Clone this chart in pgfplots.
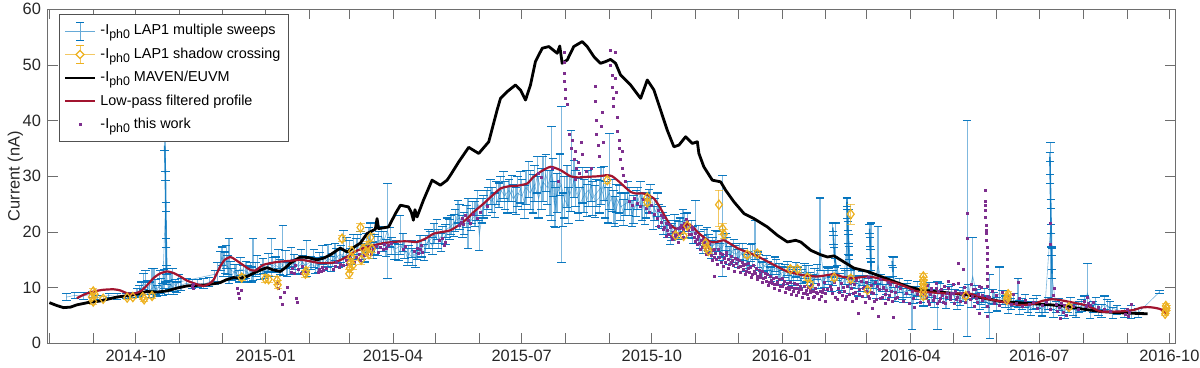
\documentclass[border=0pt]{standalone}
\usepackage{fontspec}
\setmainfont{Liberation Sans}
\usepackage{pgfplots}
\usepackage{pgfplotstable}
\pgfplotsset{compat=1.18}
\usetikzlibrary{calc}

\definecolor{lapblue}{RGB}{0,114,189}
\definecolor{shadoworange}{RGB}{237,177,32}
\definecolor{workpurple}{RGB}{126,47,142}
\definecolor{lowpassred}{RGB}{162,20,47}
\definecolor{axisgray}{RGB}{110,110,110}
\definecolor{labelgray}{RGB}{38,38,38}

\newcommand{\ph}{\raisebox{-0.55ex}{\fontsize{6.2}{6}\selectfont ph0}}

% x = days since 2014-08-01
% LAP1 multiple sweeps: day, value, error plus, error minus
\pgfplotstableread{
d v ep em
12 8.3 0.6 0.6
18 8.6 0.5 0.5
24 8.5 0.6 0.6
30 8.8 0.5 0.5
34 8.2 0.4 0.4
42 8.6 0.4 0.4
48 8.4 0.5 0.5
54 8.5 0.5 0.5
58 8.7 0.4 0.4
62 9.0 0.8 0.8
65 9.8 1.2 1.0
68 10.5 2.5 1.2
71 9.5 1.5 1.2
74 10.2 3.3 1.5
76 9.3 1.0 0.8
78 10.8 2.2 1.6
80 9.6 1.2 1.0
82 24.0 13.0 13.0
83 12.0 1.5 1.5
84 9.8 1.5 1.0
86 10.5 2.0 1.2
88 9.7 1.4 1.0
90 10.0 1.0 0.8
93 10.4 1.3 1.0
97 10.8 0.8 0.6
101 10.5 0.9 0.7
105 10.8 0.7 0.7
109 10.6 1.0 0.8
113 11.0 0.8 0.8
117 11.5 1.5 1.0
121 14.5 2.0 1.5
123 13.5 3.0 1.5
125 15.0 2.5 1.5
127 12.5 6.3 1.8
129 12.2 1.2 1.0
131 13.0 1.2 1.2
134 12.0 1.0 1.0
137 12.5 1.5 1.0
140 12.0 2.0 1.0
142 13.2 1.3 1.0
144 12.8 6.0 1.5
146 13.0 1.5 1.0
149 12.5 1.0 1.0
151 13.8 1.5 1.2
154 13.0 1.2 1.0
157 13.3 5.5 1.3
160 14.0 1.5 1.2
163 13.5 1.5 1.2
165 14.0 7.2 1.8
167 14.8 1.8 1.3
170 13.5 1.2 1.2
173 14.5 1.5 1.2
176 13.8 1.5 1.3
179 14.5 1.3 1.0
182 13.5 5.0 1.5
185 14.2 1.3 1.0
188 13.8 1.5 1.2
191 14.8 1.5 1.3
194 14.3 1.3 1.2
197 15.2 2.5 1.5
200 14.8 1.3 1.0
203 15.5 1.5 1.2
206 16.0 1.5 1.5
208 15.5 4.8 1.5
212 16.5 2.0 1.5
215 17.0 2.5 2.0
218 17.5 2.0 1.5
221 16.5 1.5 1.5
224 17.8 2.0 1.5
227 18.0 3.6 1.5
230 17.5 2.0 1.5
233 18.5 1.5 1.5
236 18.0 2.0 1.5
239 20.2 8.5 8.5
242 17.5 1.5 1.5
245 17.0 1.5 2.0
248 17.5 5.5 1.5
251 16.8 1.5 1.5
254 16.0 1.5 1.5
257 15.5 1.5 1.5
260 16.5 1.8 1.5
263 17.0 1.5 1.5
266 17.8 1.5 1.5
269 18.5 1.5 1.5
272 19.5 2.0 1.5
275 18.5 2.0 1.5
278 19.5 1.5 1.5
281 20.5 2.0 1.5
284 21.0 2.0 1.5
287 22.0 2.0 2.0
290 22.5 2.5 2.0
293 21.5 2.0 2.0
296 21.5 4.5 4.5
299 23.5 2.0 2.0
302 24.0 2.0 2.0
304 19.5 2.5 2.8
307 24.5 2.0 2.0
310 26.0 2.0 2.0
313 25.5 2.5 2.0
316 27.0 2.0 2.0
319 27.5 2.5 2.0
322 26.5 2.5 2.5
325 27.5 2.0 2.0
328 26.0 2.5 2.5
331 27.0 3.0 2.5
334 26.5 3.0 2.5
337 28.0 3.0 3.0
340 27.0 4.0 3.0
343 28.5 3.5 3.0
346 26.0 4.0 3.5
349 29.0 4.5 3.5
352 28.0 3.0 3.0
355 30.5 8.5 8.5
357 25.0 4.0 4.0
359 27.0 3.5 3.5
362 28.5 14.0 14.0
364 26.0 4.0 3.5
367 24.5 3.5 3.0
369 31.0 7.3 7.3
372 27.5 3.5 3.0
375 25.0 3.0 3.0
378 26.5 3.0 3.0
381 27.5 3.5 3.0
384 26.0 3.0 3.0
387 27.0 2.5 2.5
390 28.0 3.5 3.0
393 25.5 3.5 3.0
396 27.0 10.7 3.0
399 24.5 3.0 3.0
401 26.0 2.5 2.5
404 24.5 2.5 2.5
407 25.0 2.0 2.0
410 25.5 2.5 2.5
413 24.0 2.5 2.5
416 26.0 2.0 2.0
419 24.5 2.5 2.5
422 25.0 2.0 2.5
425 26.5 2.0 2.0
428 24.0 2.0 2.0
431 23.0 2.0 2.0
434 21.5 2.0 2.0
437 20.5 1.5 1.5
440 20.0 1.5 1.5
443 20.5 1.5 1.5
446 21.0 1.5 1.5
449 21.5 1.8 1.5
452 20.5 1.5 1.5
455 19.5 1.5 1.5
457 21.5 4.2 3.5
460 18.5 1.5 1.5
463 19.0 1.5 1.5
466 18.0 1.5 1.5
469 17.5 1.5 1.5
472 18.0 2.0 1.5
475 17.0 1.5 1.5
476 21.0 9.2 9.0
479 17.5 1.5 1.5
482 16.5 1.5 1.5
485 16.0 1.5 1.5
488 16.5 1.5 1.5
491 15.5 1.5 1.5
494 15.0 1.5 1.5
497 15.5 2.5 1.5
499 16.5 5.5 1.5
502 14.5 1.5 1.5
505 14.0 1.2 1.2
508 13.5 1.2 1.2
511 13.0 1.2 1.2
514 13.5 1.5 1.2
517 12.5 1.2 1.2
520 13.0 1.2 1.2
523 12.5 1.2 1.2
526 12.0 1.2 1.2
529 12.5 1.2 1.2
532 12.0 1.2 1.2
535 12.5 1.5 1.5
538 11.5 1.2 1.2
541 12.0 1.5 1.2
544 11.0 1.2 1.2
545 17.0 9.1 4.0
548 11.5 1.5 1.5
551 12.0 1.5 1.5
554 11.5 1.5 1.2
556 15.0 6.6 2.5
559 11.0 1.5 1.5
562 12.0 1.5 1.5
564 18.0 8.1 6.0
565 20.0 4.0 4.0
567 11.5 1.5 1.5
570 11.0 1.2 1.2
573 10.5 1.5 1.2
576 11.0 1.2 1.2
579 10.5 1.2 1.2
581 14.5 7.1 4.0
583 10.0 1.2 1.2
586 14.0 7.0 3.5
589 10.5 1.2 1.2
592 10.0 1.2 1.2
595 9.5 1.2 1.2
597 12.0 3.5 2.0
600 9.5 1.2 1.2
603 9.0 1.2 1.2
606 9.5 1.2 1.2
610 8.0 1.5 5.6
613 9.0 1.2 1.2
616 8.5 1.2 1.2
620 9.0 1.5 1.2
624 8.5 1.2 1.2
628 9.5 1.5 7.0
632 8.5 1.2 1.2
636 9.0 1.2 1.2
640 8.5 1.2 1.2
644 8.0 1.5 1.2
649 8.0 32.0 6.8
650 9.0 1.5 1.2
653 12.0 7.0 3.0
656 8.5 1.2 1.2
659 8.0 1.2 1.0
662 7.5 1.0 1.0
665 7.0 5.3 6.2
668 8.0 1.2 1.0
672 9.0 4.7 2.0
676 7.5 1.0 1.0
680 7.0 1.0 1.0
685 8.0 3.7 1.5
688 7.0 1.0 1.0
692 6.5 1.0 1.0
696 7.0 1.0 1.0
700 6.5 1.0 1.0
704 6.5 1.2 1.0
708 21.0 15.0 15.0
709 12.0 5.0 4.0
712 6.5 1.0 1.0
716 6.0 1.0 1.0
720 6.5 1.0 1.0
724 6.0 1.0 1.0
728 6.5 1.0 1.0
732 7.0 1.5 1.0
734 9.0 5.4 2.0
738 6.5 1.0 1.0
742 6.0 1.0 1.0
746 7.0 1.5 1.0
750 6.5 1.0 1.0
755 6.0 0.8 0.8
760 5.5 0.8 0.8
765 6.0 0.8 1.5
770 5.5 0.8 0.8
785 9.2 0.3 0.3
}\lapdata

% second set of sweeps, interleaved in time
\pgfplotstableread{
d v ep em
63.5 9.4 1.0 0.9
66.5 10.8 1.8 1.2
69.5 9.9 1.4 1.1
72.5 11.0 2.4 1.5
75 9.8 1.6 1.0
79 10.2 1.5 1.2
81 11.2 2.0 1.4
85 10.9 1.6 1.2
87 11.4 2.0 1.5
89 10.3 1.2 1.0
91.5 11.0 1.4 1.0
119 12.5 2.0 1.4
122 15.5 1.8 1.5
124 14.2 2.2 1.6
126 13.8 2.0 1.5
128 13.2 1.5 1.2
132 12.6 1.5 1.2
135 13.4 2.0 1.3
139 12.9 1.8 1.2
143 12.2 1.5 1.2
147 13.6 2.2 1.3
152 12.8 1.4 1.1
155 14.2 2.0 1.4
158 13.9 1.5 1.2
162 14.8 2.0 1.4
168 13.2 1.4 1.2
171 15.2 2.0 1.5
174 13.6 1.5 1.2
178 14.9 2.0 1.4
181 14.0 1.6 1.2
187 15.0 1.8 1.4
190 13.9 1.5 1.2
193 15.6 2.0 1.4
199 14.1 1.5 1.2
202 16.2 1.8 1.4
205 15.0 1.6 1.3
210 17.0 2.0 1.5
213 15.4 1.6 1.3
217 16.8 2.0 1.5
220 18.2 1.8 1.5
223 16.0 1.6 1.4
226 18.8 2.0 1.6
229 16.6 1.6 1.4
232 17.2 2.0 1.5
235 19.2 1.8 1.5
238 17.0 1.6 1.4
241 18.8 2.0 1.5
244 16.4 1.6 1.4
247 16.2 1.6 1.4
250 18.0 1.8 1.5
253 15.4 1.6 1.4
256 16.8 1.6 1.4
259 15.0 1.6 1.4
262 17.6 1.8 1.5
265 16.2 1.6 1.4
268 18.6 1.8 1.5
271 17.4 1.6 1.5
274 20.2 2.0 1.6
277 18.0 1.8 1.5
280 19.4 2.0 1.6
283 20.2 2.0 1.6
286 21.0 2.2 1.8
289 23.4 2.2 1.8
292 20.8 2.2 1.8
295 22.6 2.2 1.8
298 22.0 2.2 1.8
301 23.0 2.4 2.0
303 25.0 2.4 2.0
306 23.6 2.4 2.0
309 25.0 2.4 2.0
312 27.0 2.4 2.0
315 24.6 2.4 2.0
318 26.4 2.4 2.0
321 28.2 2.6 2.2
324 25.6 2.6 2.2
327 27.6 2.6 2.2
330 25.4 2.6 2.2
333 27.8 3.0 2.6
336 25.2 3.2 2.8
339 29.2 3.5 3.0
342 26.6 3.8 3.2
345 30.0 3.5 3.0
348 27.4 4.0 3.4
351 30.4 3.5 3.2
354 26.8 4.2 3.8
356 29.6 3.6 3.2
358 24.2 3.8 3.4
361 30.0 4.0 3.5
363 24.0 3.0 3.0
366 28.0 4.0 3.6
368 26.6 3.4 3.0
371 29.4 3.5 3.2
374 26.4 3.2 3.0
377 28.2 3.4 3.0
380 25.6 3.0 2.8
383 28.4 3.2 3.0
386 25.4 3.0 2.8
389 26.2 3.0 2.8
392 28.6 3.2 3.0
395 24.6 3.4 3.0
398 26.4 3.0 2.8
400 23.6 2.8 2.6
403 25.8 2.6 2.4
406 23.4 2.4 2.2
409 26.4 2.6 2.4
412 23.2 2.4 2.2
415 25.0 2.4 2.2
418 26.8 2.2 2.0
421 23.6 2.4 2.2
424 25.4 2.2 2.0
427 22.4 2.2 2.0
430 24.8 2.2 2.0
433 22.6 2.0 2.0
436 21.2 1.8 1.6
439 19.4 1.8 1.6
442 21.4 1.8 1.6
445 20.2 1.6 1.6
448 22.2 1.8 1.6
451 21.6 1.8 1.6
454 20.4 1.6 1.6
459 19.6 1.6 1.6
462 17.8 1.6 1.6
465 19.2 1.6 1.6
468 16.8 1.6 1.6
471 18.6 1.6 1.6
474 16.4 1.6 1.6
478 18.2 1.6 1.6
481 15.8 1.6 1.6
484 17.0 1.6 1.6
487 15.2 1.6 1.6
490 16.4 1.6 1.6
493 14.4 1.5 1.5
496 16.2 1.5 1.5
501 15.0 1.4 1.4
504 13.2 1.4 1.4
507 14.4 1.4 1.4
510 12.4 1.3 1.3
513 14.2 1.3 1.3
516 13.0 1.3 1.3
519 11.8 1.3 1.3
522 13.4 1.3 1.3
525 11.6 1.3 1.3
528 13.2 1.3 1.3
531 11.4 1.3 1.3
534 13.0 1.3 1.3
537 12.6 1.3 1.3
540 11.0 1.3 1.3
543 12.8 1.3 1.3
547 10.8 1.3 1.3
550 12.4 1.3 1.3
553 10.6 1.3 1.3
557 12.6 1.3 1.3
560 10.4 1.3 1.3
563 11.8 1.3 1.3
566 10.2 1.3 1.3
569 12.0 1.3 1.3
572 9.8 1.3 1.3
575 11.6 1.3 1.3
578 9.6 1.3 1.3
582 11.2 1.3 1.3
585 9.4 1.3 1.3
588 11.0 1.3 1.3
591 9.2 1.3 1.3
594 10.6 1.3 1.3
598 8.8 1.3 1.3
601 10.4 1.3 1.3
604 8.6 1.3 1.3
607 10.0 1.3 1.3
611 8.4 1.3 1.3
614 9.8 1.3 1.3
618 8.0 1.3 1.3
622 9.6 1.3 1.3
626 7.8 1.3 1.3
630 9.4 1.3 1.3
634 7.6 1.3 1.3
638 9.2 1.3 1.3
642 7.4 1.3 1.3
646 8.8 1.3 1.3
652 7.6 1.2 1.2
655 9.2 1.2 1.2
658 7.2 1.2 1.2
661 8.6 1.2 1.2
664 6.8 1.2 1.2
667 8.4 1.2 1.2
670 7.0 1.2 1.2
674 8.2 1.2 1.2
678 6.6 1.2 1.2
682 7.8 1.2 1.2
686 6.4 1.2 1.2
690 7.6 1.2 1.2
694 6.2 1.2 1.2
698 7.4 1.2 1.2
702 6.0 1.1 1.1
706 7.2 1.1 1.1
710 5.8 1.1 1.1
714 7.0 1.1 1.1
718 5.6 1.1 1.1
722 7.2 1.1 1.1
726 5.8 1.1 1.1
730 6.8 1.1 1.1
736 5.6 1.1 1.1
740 7.2 1.1 1.1
744 5.8 1.1 1.1
748 6.8 1.1 1.1
752 5.4 1.0 1.0
}\lapdatab

% short bursts of sweeps (stacked caps), separated by nan rows
\pgfplotstableread{
d v ep em
81.5 35.5 0.8 0.8
82 30.0 0.8 0.8
82.3 24.5 0.8 0.8
82.6 18.0 0.8 0.8
82.9 13.2 0.8 0.8
nan nan nan nan
554 20.8 0.8 0.8
554.5 18.6 0.8 0.8
555 16.4 0.8 0.8
555.5 14.5 0.8 0.8
nan nan nan nan
564 25.4 0.8 0.8
564.3 23.2 0.8 0.8
564.6 21.0 0.8 0.8
565 18.8 0.8 0.8
565.3 16.6 0.8 0.8
565.6 14.2 0.8 0.8
nan nan nan nan
580 20.6 0.8 0.8
580.3 18.2 0.8 0.8
580.6 16.0 0.8 0.8
581 13.8 0.8 0.8
nan nan nan nan
596 14.8 0.8 0.8
596.5 12.8 0.8 0.8
nan nan nan nan
707.5 33.5 0.8 0.8
707.8 29.5 0.8 0.8
708.1 25.0 0.8 0.8
708.4 20.5 0.8 0.8
708.7 16.5 0.8 0.8
709 12.5 0.8 0.8
}\lapdatac

% LAP1 shadow crossing: day, value, error plus, error minus
\pgfplotstableread{
d v ep em
30 8.3 0.6 0.6
31 9.3 0.5 0.5
31 7.5 0.5 0.5
32 8.8 0.5 0.5
38 8.0 0.4 0.4
55 8.2 0.4 0.4
59 8.3 0.3 0.3
66 8.3 0.4 0.4
67 7.9 0.4 0.4
72.6 8.5 0.4 0.4
136 11.8 0.6 0.6
152.6 11.6 0.7 0.7
155 11.5 0.6 0.6
161 11.3 0.7 0.7
161.5 10.5 0.7 0.7
181 12.5 0.6 0.6
181.5 13.0 0.6 0.6
207 18.8 0.6 0.6
212 12.5 0.8 0.8
212.5 13.5 0.8 0.8
213 14.5 0.8 0.8
213.5 15.5 0.8 0.8
214 16.5 0.8 0.8
214.5 14.0 0.8 0.8
220 20.8 0.7 0.7
220.5 15.0 0.8 0.8
222 17.0 0.8 0.8
224 16.5 0.8 0.8
225 17.5 0.7 0.7
226 16.0 0.8 0.8
227 19.0 0.7 0.7
228 17.0 0.7 0.7
394.5 29.3 0.6 0.6
422.8 26.2 0.6 0.6
422.8 25.3 0.6 0.6
442.8 19.4 0.5 0.5
448.5 19.3 0.5 0.5
451 21.1 0.5 0.5
464 18.0 0.5 0.5
465 17.2 0.5 0.5
466 16.6 0.5 0.5
473.5 24.9 2.6 4.0
476 20.6 1.0 1.0
477 19.6 0.8 0.8
493.5 15.9 0.5 0.5
500.6 16.1 0.5 0.5
524 13.3 0.5 0.5
529 13.3 0.5 0.5
536 11.8 0.5 0.5
538 10.6 0.5 0.5
555 11.8 0.5 0.5
566.7 11.6 0.6 0.6
566.7 23.2 1.8 1.8
578.5 9.6 0.5 0.5
618 8.5 0.6 0.6
618 9.2 0.6 0.6
618 9.9 0.6 0.6
618 10.6 0.6 0.6
618 11.3 0.6 0.6
618 12.0 0.6 0.6
648 8.5 0.5 0.5
677 7.8 0.5 0.5
677.5 8.3 0.5 0.5
678 8.8 0.5 0.5
721 6.5 0.4 0.4
789 5.3 0.4 0.4
789.5 5.8 0.4 0.4
790 6.3 0.4 0.4
789.5 6.7 0.4 0.4
}\shadowdata

\pgfplotsset{
  sweepstyle/.style 2 args={lapblue, line width=#2, mark=none, opacity=#1, forget plot,
    unbounded coords=jump,
    error bars/.cd, y dir=both, y explicit,
    error bar style={lapblue, line width=0.6pt, opacity=0.5},
    error mark=|,
    error mark options={lapblue, mark size=2.1pt, line width=0.55pt, opacity=0.95}},
}

\begin{document}
\begin{tikzpicture}
\begin{axis}[
    scale only axis,
    width=563.5pt, height=167pt,
    xmin=-1, xmax=796,
    ymin=0, ymax=60,
    xtick={61,153,243,334,426,518,609,700,792},
    xticklabels={2014-10,2015-01,2015-04,2015-07,2015-10,2016-01,2016-04,2016-07,2016-10},
    minor xtick={0,31,92,122,184,212,273,304,365,396,457,487,549,578,639,670,731,762},
    ytick={0,10,20,30,40,50,60},
    xtick pos=both, ytick pos=both,
    xticklabel pos=lower, yticklabel pos=left,
    tick align=inside,
    major tick length=5pt, minor tick length=5pt,
    every tick/.style={axisgray, line width=0.4pt},
    axis line style={axisgray, line width=0.5pt},
    /pgf/number format/assume math mode=true,
    tick label style={font=\fontsize{8.2}{9}\selectfont, text=labelgray},
    ylabel={Current (nA)},
    ylabel shift=-7pt,
    ylabel style={font=\fontsize{8.2}{9}\selectfont, text=labelgray},
    legend style={at={(0.01,0.986)}, anchor=north west,
      font=\fontsize{7.2}{8.5}\selectfont, draw=labelgray!80, line width=0.4pt,
      fill=white, row sep=1pt, inner xsep=2pt, inner ysep=3pt},
    legend cell align=left,
]
% multiple sweeps with error bars
\addplot[sweepstyle={0.5}{0.3pt}] table[x=d, y=v, y error plus=ep, y error minus=em] {\lapdata};
\addplot[sweepstyle={0.5}{0.3pt}] table[x=d, y=v, y error plus=ep, y error minus=em] {\lapdatab};
\addplot[sweepstyle={0.8}{0.8pt}] table[x=d, y=v, y error plus=ep, y error minus=em] {\lapdatac};

% this work
\addplot[only marks, mark=square*, mark size=0.5pt, workpurple, forget plot]
  coordinates {
(101,10.3)(101.5,9.8)(102,10.6)(133,9.9)(134,9.0)(134.5,8.1)(136,9.5)(161,10.8)(162,9.9)(163,8.2)
(165,6.9)(166,9.2)(168,10.0)(175,8.1)(175.5,7.4)(171,12.8)(172,13.4)(173,12.5)(174,13.9)(176,13.2)
(178,12.6)(179,13.8)(181,13.0)(190,12.8)(191,13.3)(192,12.9)(193,13.6)(194,13.1)(196,13.4)(201,13.2)
(202,13.8)(203,14.5)(205,13.6)(206,14.2)(208,13.9)(210,14.8)(211,14.1)(213,15.3)(216,14.6)(217,15.4)
(219,15.9)(220,14.9)(222,16.5)(223,15.7)(225,16.2)(226,17.1)(228,16.0)(229,16.8)(231,17.4)(233,16.4)
(234,17.2)(236,16.8)(237,17.8)(238,17.0)(240,17.5)(242,18.0)
(250,16.8)(252,17.4)(258,16.5)(260,17.1)(261,16.2)(262,16.8)(263,17.6)(264,16.4)(276,18.4)(278,18.9)
(279,17.6)(280,18.2)(290,21.2)(291,21.8)(292,22.5)(293,21.4)(294,22.9)(296,22.0)(298,21.5)(300,23.1)
(303,22.4)(305,23.5)(310,24.6)
(364,52.3)(364,50.5)(364.5,48.5)(364.5,47.1)(365,45.6)(365,44.0)(366,43.0)(368,37.5)(369,35.0)(370,36.5)
(371,33.0)(372,34.5)(373,31.5)(374,32.5)(375,30.5)(376,36.0)(377,34.0)(372,29.5)(386,46.2)(386,43.5)
(387,40.0)(387,37.5)(388,35.5)(389,33.5)(390,39.0)(391,41.5)(392,36.0)(397,52.7)(397,50.0)(398,48.2)
(398,46.0)(399,44.0)(399,42.5)(400,52.3)(400,47.5)(401,45.0)(402,40.5)(402,38.0)(403,36.5)(403,35.0)
(404,33.0)(405,31.5)(406,30.2)(407,29.0)(405,34.5)(346,30.5)(348,29.8)(356,31.5)(360,29.0)(380,30.8)
(383,31.5)
(410,25.5)(412,24.8)(414,26.0)(416,25.2)(418,24.5)(420,25.8)(422,24.2)(424,23.6)(426,24.8)(428,23.2)
(430,22.5)(431,23.8)(433,21.8)(434,22.6)(435,20.9)(436,21.5)(437,20.2)(438,19.6)(439,20.8)(440,19.2)
(441,19.9)(442,18.8)(443,20.3)(444,19.5)(445,20.6)(446,19.8)(447,21.2)(448,20.4)(449,21.6)(450,20.8)
(451,21.9)(452,20.2)(453,21.0)(454,19.6)(455,20.4)(456,19.0)(457,19.8)(458,18.6)(459,19.2)(460,17.9)
(461,18.5)(462,17.2)(463,18.1)(464,16.8)(465,17.6)(466,16.2)(467,17.0)(468,15.8)(469,16.6)(470,15.5)
(470,12.0)(471,16.2)(472,15.0)(473,16.8)(474,15.4)(475,14.6)(476,16.0)(477,15.2)(478,14.5)(479,16.4)
(480,15.0)(481,14.2)(482,15.6)(483,14.8)(484,13.9)(485,15.3)(486,14.4)(487,13.6)(488,14.9)(489,13.8)
(490,14.6)(491,13.2)(492,14.1)(493,13.0)(494,14.4)(495,12.8)(496,13.6)(497,12.4)(498,13.9)(499,12.6)
(500,13.4)(501,12.0)(502,13.1)(503,11.8)(504,12.9)(505,11.6)(506,12.5)(507,11.2)(508,12.3)(509,11.0)
(510,12.1)(511,10.8)(512,11.7)(513,10.5)(514,11.9)(515,10.9)(516,11.4)(517,10.2)(518,11.6)(519,10.6)
(520,11.2)(521,9.9)(522,10.8)(523,9.6)(524,11.0)(525,10.1)(526,9.4)(527,10.7)(528,9.8)(529,10.5)
(530,9.2)(531,10.3)(532,9.6)(533,8.9)(534,10.2)(535,9.5)(536,8.7)(537,10.0)(538,9.1)(539,10.4)
(540,9.3)(541,8.5)(542,9.9)(543,9.0)(544,10.6)(545,9.4)(546,8.4)(547,9.7)(548,10.9)(549,8.9)(550,9.6)
(430.5,21.0)(432.5,22.9)(434.5,20.4)(436.5,19.2)(438.5,21.4)(440.5,18.6)(442.5,19.4)(444.5,18.2)(446.5,20.9)(448.5,19.1)
(450.5,22.3)(452.5,19.5)(454.5,20.8)(456.5,18.3)(458.5,17.8)(460.5,16.9)(462.5,18.6)(464.5,15.9)(466.5,17.9)(468.5,14.9)
(470.5,16.9)(472.5,14.1)(474.5,16.2)(476.5,13.8)(478.5,15.7)(480.5,13.5)(482.5,14.6)(484.5,12.9)(486.5,15.1)(488.5,12.8)
(490.5,13.9)(492.5,12.3)(494.5,13.4)(496.5,11.9)(498.5,12.9)(500.5,11.4)(502.5,12.4)(504.5,10.9)(506.5,11.8)(508.5,10.4)
(510.5,11.3)(512.5,9.9)(514.5,10.6)(516.5,9.5)(518.5,10.3)(520.5,9.1)(522.5,10.0)(524.5,8.8)(526.5,9.9)(528.5,8.6)
(530.5,9.7)(532.5,8.3)(534.5,9.0)(536.5,8.0)(538.5,9.6)(540.5,8.2)(542.5,9.2)(544.5,7.8)(546.5,9.1)(548.5,7.6)
(552,10.2)(554,9.0)(556,8.3)(558,9.8)(560,10.8)(561,8.6)(562,9.4)(563,7.9)(564,10.3)(565,11.6)
(566,8.8)(567,9.9)(568,7.6)(569,10.6)(570,9.2)(571,8.1)(572,5.4)(573,9.7)(574,11.2)(575,8.5)
(576,10.1)(577,7.4)(578,9.3)(579,11.9)(580,8.0)(581,10.4)(582,6.3)(583,9.0)(584,10.9)(585,7.8)
(586,4.9)(587,9.6)(588,11.4)(589,8.3)(590,10.0)(591,7.2)(592,9.5)(593,11.0)(594,8.6)(595,10.6)
(596,7.5)(597,4.7)(598,9.1)(599,10.3)(600,8.2)(602,9.8)(604,7.6)(606,8.9)(608,7.1)(610,9.4)
(553,9.6)(555,11.0)(557,7.8)(559,9.2)(561.5,10.1)(563.5,8.4)(566.5,10.7)(568.5,8.9)(570.5,11.3)(572.5,8.7)
(575.5,9.8)(577.5,10.9)(579.5,8.4)(581.5,9.1)(583.5,7.6)(585.5,10.2)(587.5,8.1)(589.5,9.9)(591.5,8.7)(593.5,7.9)
(595.5,9.3)(598.5,8.0)(619,8.7)(621.5,7.6)(623.5,9.6)(625.5,8.3)(627.5,9.9)(629.5,7.6)(631.5,8.6)(633.5,7.2)
(635.5,9.8)(637.5,8.4)(639.5,9.0)(641.5,7.9)(653.5,9.6)(655.5,8.1)(657.5,10.3)(659.5,8.6)
(611,8.0)(612,6.4)(614,8.7)(616,7.3)(618,9.1)(620,8.2)(621,10.4)(622,7.0)(623,8.8)(624,9.9)
(625,7.7)(626,8.5)(627,10.8)(628,7.2)(629,9.3)(630,8.0)(631,9.6)(632,7.4)(633,10.2)(634,8.3)
(635,9.0)(636,11.2)(637,7.8)(638,8.9)(639,10.5)(640,7.1)(641,9.4)(642,8.2)(643,14.4)(643,10.8)
(644,7.6)(645,9.0)(646,13.2)(646,8.4)(647,10.1)(648,7.3)(649,23.3)(649,18.9)(650,9.2)(651,7.9)
(652,10.6)(653,8.5)(654,6.6)(655,9.7)(656,7.4)(657,8.8)(658,5.4)(659,10.0)(660,7.7)
(662,27.5)(662,25.4)(662,24.8)(662,23.9)(662,22.7)(662.5,21.2)(662.5,20.3)(662.5,19.7)(662.5,18.5)
(663,17.3)(663,16.2)(663,15.0)(663,13.8)(663,12.6)(663,11.4)(663,10.2)(663,8.4)(663,6.6)(663,4.8)
(665,8.2)(667,9.4)(668,7.1)(670,8.6)(672,6.8)(674,9.1)(676,7.5)(678,8.3)(680,6.9)(682,8.8)
(684,7.2)(685,10.9)(686,8.0)(688,6.6)(690,7.7)(693,6.9)(696,7.4)(699,6.2)
(702,6.8)(705,7.3)(708,6.1)(708,21.5)(708,17.8)(710,8.6)(711,9.8)(712,7.0)(713,5.8)(714,6.5)
(715,4.5)(716,7.2)(717,5.5)(718,6.8)(719,5.0)(720,6.2)(724,6.7)(728,6.0)(732,7.6)(733,6.6)
(734,8.3)(735,7.1)(736,6.8)(738,7.4)(742,6.4)(746,6.0)(750,5.8)(761,5.2)(762,6.1)(763,4.9)
(764,5.6)(765,6.9)
  };

% shadow crossing
\addplot[only marks, mark=diamond, mark size=2.3pt, shadoworange,
    mark options={line width=0.6pt}, forget plot,
    error bars/.cd, y dir=both, y explicit,
    error bar style={shadoworange, line width=0.5pt, opacity=0.7},
    error mark=|,
    error mark options={shadoworange, mark size=2.1pt, line width=0.5pt}]
  table[x=d, y=v, y error plus=ep, y error minus=em] {\shadowdata};

% MAVEN/EUVM
\addplot[black, line width=1.4pt, line join=round, forget plot] coordinates {
(0,7.3)(5,6.8)(10,6.4)(15,6.5)(19.4,6.9)(27,7.3)(35.9,7.6)(47.7,8.3)(59.4,8.7)(68.9,9.3)
(76,9.2)(83.1,9.4)(90,9.9)(97.2,10.3)(104,10.4)(111.4,10.5)(120.8,10.9)(125,11.4)(130.2,11.8)(135,11.7)
(139.7,12.0)(146.8,12.9)(153.9,13.6)(158,13.2)(163.3,12.9)(167,13.6)(170.4,14.4)(177.5,15.5)(183,15.4)(189.2,15.0)
(194,15.3)(198.7,15.9)(205.7,17.1)(210.5,16.4)(215,17.2)(219.9,18.0)(224.6,19.7)(230.5,20.5)(231.7,22.4)(232.8,20.6)
(239.9,20.9)(244.7,23.3)(248.2,24.8)(253.9,24.5)(256,23.5)(257.4,22.1)(258.5,24.0)(260.0,22.7)(264.5,25.7)(270.6,29.3)
(276.5,28.4)(281.2,29.3)(283.6,30.2)(289.5,32.6)(296.5,35.2)(303.6,34.1)(310.7,36.2)(316.6,41.9)(319.0,44.0)(323.7,45.2)
(329.6,46.4)(333.1,45.5)(336.7,43.7)(340.2,46.4)(343.7,50.6)(348.5,53.0)(353.2,53.3)(359.1,52.1)(360.9,53.4)(362.6,50.3)
(366.2,50.9)(370.8,53.3)(376.8,54.2)(380.3,53.3)(385.0,51.5)(389.7,50.3)(393.3,50.6)(396.8,51.0)(400.4,50.3)(403.9,48.2)
(411.0,46.4)(418.1,44.0)(422.8,47.3)(427.5,45.5)(432.2,41.9)(436.9,38.3)(441.6,35.3)(445.2,35.6)(449.9,37.1)(454.6,35.9)
(458.2,36.2)(459.3,34.1)(462.8,31.7)(468.8,29.3)(474.7,29.0)(478.2,27.5)(484.1,25.4)(491.2,23.3)(498.2,22.4)(507.7,20.9)
(514.8,19.4)(521.9,18.2)(527.7,18.5)(531.3,18.2)(538.4,16.7)(545.4,15.9)(550.2,15.5)(554.9,15.7)(561.9,14.6)(569.0,13.5)
(578.5,12.9)(587.9,12.0)(597.3,11.1)(606.8,10.2)(616.2,9.6)(625.6,9.3)(637.4,9.0)(649.3,8.7)(661.0,8.1)(672.8,7.5)
(684.6,7.3)(696.4,7.1)(708.2,6.9)(720.0,6.6)(731.8,6.1)(743.6,5.7)(755.4,5.5)(764.8,5.4)(776.6,5.3)
};

% low-pass filtered profile
\addplot[lowpassred, line width=1.1pt, smooth, tension=0.4, forget plot] coordinates {
(19.4,8.1)(25,8.8)(31.1,9.3)(38,9.6)(45.3,9.7)(50,9.5)(54.8,9.0)(59,8.9)(64.2,9.3)(69,10.4)
(73.6,11.7)(78,12.5)(83.1,12.9)(88,12.6)(92.5,12.0)(97,11.3)(101.9,10.8)(109.0,10.3)(113,10.7)(116.1,11.4)
(120.8,13.8)(124,15.0)(127.9,15.5)(131,15.1)(135.0,14.4)(142.0,13.2)(146,13.1)(151.4,14.1)(160.9,14.6)(170,14.8)
(177.5,15.0)(185,14.7)(191.6,14.4)(201.0,14.5)(207,15.1)(212.8,15.9)(218,16.7)(224.6,17.3)(236.4,18.0)(248.2,18.3)
(254,18.3)(260.0,18.2)(266,18.8)(271.8,19.7)(278,20.0)(283.6,20.3)(290,21.3)(295.4,22.4)(301,23.8)(307.1,25.1)
(313,26.5)(319.0,27.8)(325,28.2)(330.8,28.3)(337.9,28.7)(342,29.8)(347.3,30.8)(354.3,31.7)(361.4,31.1)(368.5,30.0)
(374,29.8)(380.3,29.9)(388,30.0)(394.5,30.2)(398,30.0)(401.6,29.3)(406,28.3)(411.0,27.2)(415,26.9)(420.4,26.9)
(427.5,26.0)(432.2,24.2)(436,22.5)(439.3,21.2)(443,20.6)(446.4,20.6)(451.1,21.4)(455,20.9)(458.2,20.0)(463,19.0)
(467.6,18.2)(472,18.2)(477.0,18.5)(482,17.8)(486.5,17.1)(492,16.5)(498.2,15.9)(504,15.2)(510.0,14.4)(516,13.6)
(521.9,12.9)(531.3,12.3)(537,12.1)(543.1,12.0)(549,12.2)(554.9,12.4)(560,12.0)(566.7,11.7)(572,11.8)(578.5,12.0)
(584,11.8)(590.3,11.4)(596,11.0)(602.1,10.5)(608,9.9)(614.0,9.3)(625.6,9.1)(637.4,8.9)(649.3,9.0)(655,8.6)
(661.0,8.1)(672.8,7.5)(684.6,6.9)(690,6.9)(696.4,7.1)(702,7.6)(708.2,7.9)(714,7.8)(720.0,7.5)(731.8,6.9)
(738,6.3)(743.6,5.7)(755.4,5.7)(761,5.8)(767.2,6.0)(772,6.4)(776.6,6.5)(781,6.4)(786.0,6.1)(789.6,5.4)
};

% legend
\addlegendimage{legend image code/.code={
  \draw[lapblue!60, line width=0.5pt] (0pt,0pt) -- (15pt,0pt);
  \draw[lapblue!60, line width=0.5pt] (7.5pt,-4.5pt) -- (7.5pt,4.5pt);
  \draw[lapblue, line width=0.5pt] (5.5pt,4.5pt) -- (9.5pt,4.5pt);
  \draw[lapblue, line width=0.5pt] (5.5pt,-4.5pt) -- (9.5pt,-4.5pt);}}
\addlegendentry{-I\ph{} LAP1 multiple sweeps}
\addlegendimage{legend image code/.code={
  \draw[shadoworange!70, line width=0.5pt] (0pt,0pt) -- (15pt,0pt);
  \draw[shadoworange!70, line width=0.5pt] (7.5pt,-4.5pt) -- (7.5pt,4.5pt);
  \draw[shadoworange, line width=0.5pt] (5.5pt,4.5pt) -- (9.5pt,4.5pt);
  \draw[shadoworange, line width=0.5pt] (5.5pt,-4.5pt) -- (9.5pt,-4.5pt);
  \draw[shadoworange, line width=0.6pt, fill=white] (7.5pt,-2pt) -- (9.5pt,0pt) -- (7.5pt,2pt) -- (5.5pt,0pt) -- cycle;}}
\addlegendentry{-I\ph{} LAP1 shadow crossing}
\addlegendimage{legend image code/.code={\draw[black, line width=1.4pt] (0pt,0pt) -- (15pt,0pt);}}
\addlegendentry{-I\ph{} MAVEN/EUVM}
\addlegendimage{legend image code/.code={\draw[lowpassred, line width=1.1pt] (0pt,0pt) -- (15pt,0pt);}}
\addlegendentry{Low-pass filtered profile}
\addlegendimage{legend image code/.code={\fill[workpurple] (7pt,-0.5pt) rectangle (8pt,0.5pt);}}
\addlegendentry{-I\ph{} this work}

\coordinate (ll) at (rel axis cs:0,0);
\coordinate (ur) at (rel axis cs:1,1);
\end{axis}
\pgfresetboundingbox
\path[use as bounding box] ($(ll)+(-24pt,-12.35pt)$) rectangle ($(ur)+(12.5pt,4.65pt)$);
\end{tikzpicture}
\end{document}
